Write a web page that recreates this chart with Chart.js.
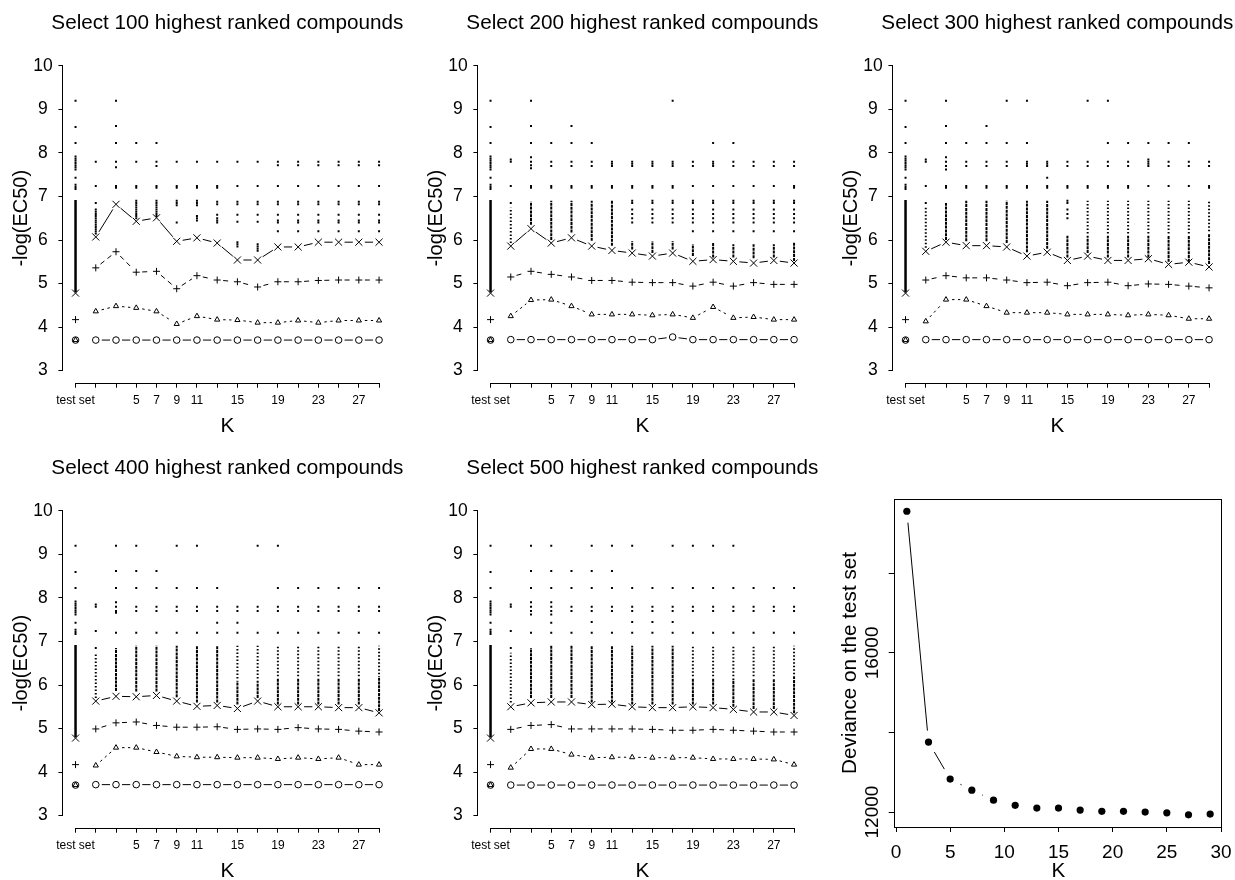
<!DOCTYPE html>
<html>
<head>
<meta charset="utf-8">
<script src="https://cdn.jsdelivr.net/npm/chart.js@4"></script>
<style>
html,body{margin:0;padding:0;background:#fff;overflow:hidden;width:1235px;height:880px;position:relative;}
canvas{position:absolute;}
</style>
</head>
<body>
<canvas id="p1" width="460" height="445" style="left:0px;top:0px"></canvas>
<canvas id="p2" width="460" height="445" style="left:415px;top:0px"></canvas>
<canvas id="p3" width="460" height="445" style="left:830px;top:0px"></canvas>
<canvas id="p4" width="460" height="445" style="left:0px;top:445px"></canvas>
<canvas id="p5" width="460" height="445" style="left:415px;top:445px"></canvas>
<canvas id="p6" width="415" height="445" style="left:830px;top:445px"></canvas>
<script>
// ---------------- DATA ----------------
const categories = ['test set','1','3','5','7','9','11','13','15','17','19','21','23','25','27','29'];
const xTickLabels = ['test set','','','5','7','9','11','','15','','19','','23','','27',''];
const yTickValues = [3,4,5,6,7,8,9,10];
const selectionSizes = [100,200,300,400,500];

// test set column (same in every panel): cross, plus, triangle, circle
const testSetStats = [4.78, 4.17, 3.70, 3.70];
const testSetDots = [9.2, 8.6, 8.23, 7.92, 7.87, 7.82, 7.77, 7.72, 7.67, 7.62, 7.43, 7.27, 7.22, 7.17];
const testSetDense = [4.80, 6.92];

// Select 100
const s100Cross = [6.07, 6.82, 6.43, 6.51, 5.97, 6.05, 5.93, 5.54, 5.54, 5.84, 5.84, 5.95, 5.95, 5.95, 5.95];
const s100Plus = [5.36, 5.73, 5.26, 5.28, 4.88, 5.18, 5.08, 5.04, 4.92, 5.04, 5.04, 5.07, 5.08, 5.08, 5.08];
const s100Triangle = [4.36, 4.48, 4.44, 4.36, 4.07, 4.25, 4.17, 4.16, 4.10, 4.10, 4.15, 4.10, 4.15, 4.15, 4.15];
const s100Circle = [3.70, 3.70, 3.70, 3.70, 3.70, 3.70, 3.70, 3.70, 3.70, 3.70, 3.70, 3.70, 3.70, 3.70, 3.70];
const s100Dots = [
  [7.8, 7.24, 6.85, 6.7, 6.65, 6.6, 6.55, 6.5, 6.45, 6.4, 6.35, 6.3, 6.25, 6.2, 6.15],
  [9.2, 8.62, 8.23, 7.8, 7.67, 7.24, 7.2],
  [8.23, 7.8, 7.24, 7.2, 6.9, 6.85, 6.8, 6.75, 6.7, 6.65, 6.6, 6.55, 6.5],
  [8.23, 7.8, 7.7, 7.24, 7.2, 6.9, 6.85, 6.8, 6.75, 6.7, 6.65, 6.6, 6.55],
  [7.8, 7.24, 7.2, 6.9, 6.85, 6.8, 6.4],
  [7.8, 7.24, 7.2, 6.9, 6.85, 6.8, 6.55, 6.5, 6.45],
  [7.8, 7.24, 7.2, 6.88, 6.82, 6.58, 6.5, 6.45, 6.4],
  [7.8, 7.24, 6.88, 6.82, 6.58, 6.42, 5.95, 5.9, 5.85],
  [7.8, 7.24, 6.88, 6.82, 6.58, 6.42, 5.9, 5.85, 5.8, 5.75],
  [7.8, 7.72, 7.24, 6.88, 6.82, 6.58, 6.45, 6.4, 6.2],
  [7.8, 7.72, 7.24, 6.88, 6.82, 6.58, 6.45, 6.4, 6.2],
  [7.8, 7.72, 7.24, 6.88, 6.82, 6.58, 6.45, 6.4, 6.2],
  [7.8, 7.72, 7.24, 6.88, 6.82, 6.58, 6.45, 6.4, 6.2],
  [7.8, 7.72, 7.24, 6.88, 6.82, 6.58, 6.45, 6.4, 6.2],
  [7.8, 7.72, 7.24, 6.88, 6.82, 6.58, 6.45, 6.4, 6.2]
];
const s100Dense = [null, null, null, null, null, null, null, null, null, null, null, null, null, null, null];
const s100Sparse = [null, null, null, null, null, null, null, null, null, null, null, null, null, null, null];

// Select 200
const s200Cross = [5.86, 6.26, 5.93, 6.05, 5.86, 5.76, 5.70, 5.63, 5.70, 5.51, 5.55, 5.51, 5.47, 5.53, 5.47];
const s200Plus = [5.15, 5.28, 5.21, 5.15, 5.07, 5.07, 5.03, 5.02, 5.02, 4.94, 5.03, 4.94, 5.02, 4.98, 4.98];
const s200Triangle = [4.25, 4.62, 4.63, 4.48, 4.29, 4.29, 4.29, 4.27, 4.29, 4.21, 4.46, 4.21, 4.23, 4.17, 4.17];
const s200Circle = [3.71, 3.71, 3.71, 3.71, 3.71, 3.71, 3.71, 3.71, 3.77, 3.71, 3.71, 3.71, 3.71, 3.71, 3.71];
const s200Dots = [
  [7.85, 7.8, 7.24, 6.85],
  [9.2, 8.62, 8.23, 7.9, 7.8, 7.72, 7.65, 7.24, 7.2],
  [8.23, 7.8, 7.7, 7.24, 7.2],
  [8.62, 8.23, 7.8, 7.7, 7.24, 7.2],
  [8.23, 7.8, 7.7, 7.24, 7.2],
  [7.8, 7.75, 7.7, 7.24, 7.2],
  [7.8, 7.75, 7.7, 7.24, 7.2, 6.9, 6.85, 6.7, 6.6, 6.5, 6.4],
  [7.8, 7.75, 7.7, 7.24, 7.2, 6.9, 6.85, 6.7, 6.6, 6.5, 6.4],
  [9.2, 7.8, 7.75, 7.7, 7.24, 7.2, 6.9, 6.85, 6.7, 6.6, 6.5, 6.4],
  [7.8, 7.7, 7.24, 6.9, 6.85, 6.7, 6.6, 6.5, 6.4, 6.2],
  [8.23, 7.8, 7.75, 7.7, 7.24, 6.9, 6.85, 6.7, 6.6, 6.5, 6.4, 6.2],
  [8.23, 7.8, 7.7, 7.24, 6.9, 6.85, 6.7, 6.6, 6.5, 6.4, 6.2],
  [7.8, 7.7, 7.24, 6.9, 6.85, 6.7, 6.6, 6.5, 6.4, 6.2],
  [7.8, 7.7, 7.24, 6.9, 6.85, 6.7, 6.6, 6.5, 6.4, 6.2],
  [7.8, 7.7, 7.24, 7.2, 6.9, 6.85, 6.7, 6.6, 6.5, 6.4, 6.2]
];
const s200Dense = [null, [6.35, 6.88], [6.0, 6.9], [6.17, 6.9], [5.98, 6.9], [5.87, 6.9], [5.78, 5.97], [5.7, 5.97], [5.78, 5.97], [5.63, 5.9], [5.6, 5.94], [5.6, 5.9], [5.58, 5.9], [5.6, 5.9], [5.52, 5.94]];
const s200Sparse = [[5.93, 6.74], null, null, null, null, null, null, null, null, null, null, null, null, null, null];

// Select 300
const s300Cross = [5.74, 5.95, 5.87, 5.87, 5.84, 5.63, 5.72, 5.53, 5.63, 5.53, 5.53, 5.57, 5.44, 5.49, 5.38];
const s300Plus = [5.08, 5.18, 5.13, 5.13, 5.08, 5.02, 5.03, 4.95, 5.02, 5.03, 4.95, 4.99, 4.98, 4.94, 4.90];
const s300Triangle = [4.13, 4.63, 4.63, 4.48, 4.33, 4.33, 4.33, 4.29, 4.29, 4.29, 4.27, 4.29, 4.27, 4.19, 4.19];
const s300Circle = [3.71, 3.71, 3.71, 3.71, 3.71, 3.71, 3.71, 3.71, 3.71, 3.71, 3.71, 3.71, 3.71, 3.71, 3.71];
const s300Dots = [
  [7.85, 7.8, 7.24, 6.85],
  [9.2, 8.62, 8.23, 7.9, 7.8, 7.7, 7.62, 7.24, 7.2],
  [8.23, 7.8, 7.7, 7.24, 7.2],
  [8.62, 8.23, 7.8, 7.7, 7.24, 7.2],
  [9.2, 8.23, 7.8, 7.7, 7.24, 7.2],
  [9.2, 8.23, 7.8, 7.75, 7.7, 7.24, 7.2],
  [7.8, 7.75, 7.7, 7.43, 7.24, 7.2],
  [7.8, 7.7, 7.24, 7.2, 6.9, 6.85, 6.7, 6.6, 6.5],
  [9.2, 7.8, 7.7, 7.24, 7.2],
  [9.2, 8.23, 7.8, 7.7, 7.24, 7.2],
  [8.23, 7.8, 7.7, 7.24, 7.2],
  [8.23, 7.85, 7.8, 7.75, 7.7, 7.24],
  [8.23, 7.8, 7.7, 7.24],
  [8.23, 7.8, 7.7, 7.24],
  [7.8, 7.7, 7.24, 7.2]
];
const s300Dense = [null, [6.0, 6.85], [5.97, 6.9], [5.97, 6.9], [5.93, 6.9], [5.72, 6.9], [5.8, 6.9], [5.6, 6.1], [5.7, 6.1], [5.6, 6.1], [5.6, 6.1], [5.6, 6.1], [5.5, 6.1], [5.5, 6.1], [5.45, 6.15]];
const s300Sparse = [[5.82, 6.74], null, null, null, null, null, null, null, [6.15, 6.9], [6.15, 6.9], [6.15, 6.9], [6.15, 6.9], [6.15, 6.9], [6.15, 6.9], [6.2, 6.9]];

// Select 400
const s400Cross = [5.63, 5.74, 5.73, 5.76, 5.63, 5.51, 5.53, 5.46, 5.63, 5.50, 5.50, 5.50, 5.48, 5.48, 5.36];
const s400Plus = [4.99, 5.13, 5.15, 5.07, 5.03, 5.03, 5.04, 4.98, 4.99, 4.98, 5.02, 4.99, 4.98, 4.94, 4.92];
const s400Triangle = [4.15, 4.56, 4.56, 4.46, 4.36, 4.34, 4.34, 4.33, 4.33, 4.30, 4.33, 4.30, 4.33, 4.17, 4.17];
const s400Circle = [3.71, 3.71, 3.71, 3.71, 3.71, 3.71, 3.71, 3.71, 3.71, 3.71, 3.71, 3.71, 3.71, 3.71, 3.71];
const s400Dots = [
  [7.85, 7.8, 7.24, 6.85],
  [9.2, 8.62, 8.23, 7.9, 7.8, 7.7, 7.66, 7.2],
  [9.2, 8.62, 8.23, 7.8, 7.7, 7.2],
  [8.62, 8.23, 7.8, 7.7, 7.2],
  [9.2, 8.23, 7.8, 7.7, 7.2],
  [9.2, 8.23, 7.8, 7.7, 7.2],
  [8.23, 7.8, 7.7, 7.43, 7.2],
  [7.8, 7.7, 7.43, 7.2],
  [9.2, 7.8, 7.7, 7.2],
  [9.2, 8.23, 7.8, 7.7, 7.2],
  [8.23, 7.8, 7.7, 7.2],
  [8.23, 7.8, 7.7, 7.2],
  [8.23, 7.8, 7.7, 7.2],
  [8.23, 7.8, 7.7, 7.2],
  [8.23, 7.8, 7.7, 7.2]
];
const s400Dense = [null, [5.86, 6.85], [5.85, 6.9], [5.85, 6.9], [5.72, 6.9], [5.6, 6.9], [5.6, 6.9], [5.55, 6.1], [5.7, 6.1], [5.55, 6.15], [5.55, 6.15], [5.55, 6.15], [5.55, 6.15], [5.55, 6.15], [5.4, 6.2]];
const s400Sparse = [[5.7, 6.74], null, null, null, null, null, null, [6.15, 6.9], [6.15, 6.9], [6.2, 6.9], [6.2, 6.9], [6.2, 6.9], [6.2, 6.9], [6.2, 6.9], [6.25, 6.9]];

// Select 500
const s500Cross = [5.50, 5.59, 5.61, 5.61, 5.55, 5.56, 5.50, 5.48, 5.48, 5.50, 5.48, 5.44, 5.38, 5.38, 5.30];
const s500Plus = [4.98, 5.07, 5.09, 4.99, 4.99, 4.99, 4.99, 4.98, 4.96, 4.96, 4.98, 4.96, 4.94, 4.92, 4.92];
const s500Triangle = [4.10, 4.53, 4.53, 4.40, 4.33, 4.34, 4.34, 4.33, 4.33, 4.33, 4.30, 4.30, 4.30, 4.29, 4.17];
const s500Circle = [3.70, 3.70, 3.70, 3.70, 3.70, 3.70, 3.70, 3.70, 3.70, 3.70, 3.70, 3.70, 3.70, 3.70, 3.70];
const s500Dots = [
  [7.85, 7.8, 7.24, 6.85],
  [9.2, 8.62, 8.23, 7.9, 7.8, 7.7, 7.62, 7.2],
  [9.2, 8.62, 8.23, 7.9, 7.8, 7.7, 7.62, 7.43, 7.2],
  [8.62, 8.23, 7.8, 7.7, 7.2],
  [9.2, 8.62, 8.23, 7.8, 7.7, 7.45, 7.2],
  [9.2, 8.62, 8.23, 7.8, 7.7, 7.2],
  [9.2, 8.23, 7.8, 7.7, 7.45, 7.2],
  [8.23, 7.8, 7.7, 7.45, 7.2],
  [9.2, 8.23, 7.8, 7.7, 7.45, 7.2],
  [9.2, 8.23, 7.8, 7.7, 7.2],
  [9.2, 8.23, 7.8, 7.7, 7.2],
  [9.2, 8.23, 7.8, 7.7, 7.2],
  [8.23, 7.8, 7.7, 7.2],
  [8.23, 7.8, 7.7, 7.2],
  [8.23, 7.8, 7.7, 7.2]
];
const s500Dense = [null, [5.7, 6.85], [5.7, 6.9], [5.7, 6.9], [5.6, 6.9], [5.6, 6.9], [5.55, 6.9], [5.55, 6.9], [5.55, 6.9], [5.55, 6.15], [5.55, 6.15], [5.5, 6.15], [5.45, 6.15], [5.45, 6.15], [5.35, 6.2]];
const s500Sparse = [[5.6, 6.74], null, null, null, null, null, null, null, null, [6.2, 6.9], [6.2, 6.9], [6.2, 6.9], [6.2, 6.9], [6.2, 6.9], [6.25, 6.9]];

// Deviance panel
const kValues = [1, 3, 5, 7, 9, 11, 13, 15, 17, 19, 21, 23, 25, 27, 29];
const deviance = [19560, 13760, 12830, 12550, 12300, 12170, 12100, 12100, 12050, 12020, 12020, 12000, 11980, 11930, 11950];
const devianceXTicks = [0, 5, 10, 15, 20, 25, 30];
const devianceYTicks = [12000, 14000, 16000, 18000];
const devianceYLabels = ['12000', '', '16000', ''];

// ---------------- RENDERING ----------------
const FONT = "'Liberation Sans', Arial, Helvetica, sans-serif";
Chart.defaults.font.family = FONT;
Chart.defaults.color = '#000';

function alignPx(p){ return Math.round(p - 0.5) + 0.5; }

const gapLinePlugin = {
  id: 'gapLines',
  afterDatasetsDraw(chart) {
    const ctx = chart.ctx;
    chart.data.datasets.forEach((ds, di) => {
      if (!ds.gapLine) return;
      const pts = chart.getDatasetMeta(di).data;
      const g = ds.gapLine.gap;
      ctx.save();
      ctx.strokeStyle = '#000';
      ctx.lineWidth = 1;
      ctx.setLineDash(ds.gapLine.dash || []);
      for (let i = ds.gapLine.from; i < pts.length - 1; i++) {
        const a = pts[i], b = pts[i + 1];
        const dx = b.x - a.x, dy = b.y - a.y;
        const L = Math.hypot(dx, dy);
        if (L <= 2 * g) continue;
        const ux = dx / L, uy = dy / L;
        ctx.beginPath();
        ctx.moveTo(a.x + ux * g, a.y + uy * g);
        ctx.lineTo(b.x - ux * g, b.y - uy * g);
        ctx.stroke();
      }
      ctx.restore();
    });
  }
};

const rAxesPlugin = {
  id: 'rAxes',
  afterDraw(chart, args, opts) {
    const {ctx, chartArea, scales} = chart;
    ctx.save();
    ctx.strokeStyle = '#000';
    ctx.lineWidth = 1;
    ctx.setLineDash([]);
    const left = Math.round(chartArea.left) - 0.5;
    const bottom = Math.round(chartArea.bottom) + 0.5;
    if (opts.box) {
      const top = Math.round(chartArea.top) + 0.5;
      const right = Math.round(chartArea.right) - 0.5;
      ctx.strokeRect(left, top, right - left, bottom - top);
    } else {
      const x0 = alignPx(scales.x.getPixelForValue(opts.xFrom)) - 0.5;
      const x1 = alignPx(scales.x.getPixelForValue(opts.xTo)) + 0.5;
      ctx.beginPath(); ctx.moveTo(x0, bottom); ctx.lineTo(x1, bottom); ctx.stroke();
      const y0 = alignPx(scales.y.getPixelForValue(opts.yTo)) - 0.5;
      const y1 = alignPx(scales.y.getPixelForValue(opts.yFrom)) + 0.5;
      ctx.beginPath(); ctx.moveTo(left, y0); ctx.lineTo(left, y1); ctx.stroke();
    }
    ctx.restore();
  }
};

function bandDataset(xi, band, width, dash) {
  return {
    type: 'line',
    data: [{x: xi, y: band[0]}, {x: xi, y: band[1]}],
    borderColor: '#000', borderWidth: width, borderDash: dash,
    borderCapStyle: 'butt', pointRadius: 0, showLine: true, fill: false, tension: 0
  };
}

function statDataset(testVal, series, style, radius, dash) {
  const data = [{x: 0, y: testVal}].concat(series.map((v, i) => ({x: i + 1, y: v})));
  return {
    type: 'scatter', data,
    pointStyle: style, pointRadius: radius,
    pointBorderColor: '#000', borderColor: '#000',
    pointBackgroundColor: 'rgba(0,0,0,0)', backgroundColor: 'rgba(0,0,0,0)',
    pointBorderWidth: 1, borderWidth: 1, showLine: false,
    gapLine: {from: 1, gap: 6, dash}
  };
}

function mainPanel(id, size, cross, plus, tri, circ, dots, dense, sparse) {
  const datasets = [];
  datasets.push(bandDataset(0, testSetDense, 2.5, []));
  dense.forEach((b, i) => { if (b) datasets.push(bandDataset(i + 1, b, 2, [3, 0.8])); });
  sparse.forEach((b, i) => { if (b) datasets.push(bandDataset(i + 1, b, 2, [1.5, 2])); });
  const dotData = testSetDots.map(v => ({x: 0, y: v}));
  dots.forEach((arr, i) => arr.forEach(v => dotData.push({x: i + 1, y: v})));
  datasets.push({
    type: 'scatter', data: dotData, pointStyle: 'rect', pointRadius: 1.4,
    pointBackgroundColor: '#000', backgroundColor: '#000', pointBorderWidth: 0, borderWidth: 0, showLine: false
  });
  datasets.push(statDataset(testSetStats[0], cross, 'crossRot', 5, []));
  datasets.push(statDataset(testSetStats[1], plus, 'cross', 3.5, [5, 4]));
  datasets.push(statDataset(testSetStats[2], tri, 'triangle', 3, [2.5, 3.5]));
  datasets.push(statDataset(testSetStats[3], circ, 'circle', 3.3, []));

  new Chart(document.getElementById(id), {
    type: 'scatter',
    data: {datasets},
    plugins: [gapLinePlugin, rAxesPlugin],
    options: {
      responsive: false, animation: false, devicePixelRatio: 1, events: [],
      layout: {padding: {left: 0, right: 5.4, top: 0, bottom: 0}, autoPadding: false},
      plugins: {
        legend: {display: false}, tooltip: {enabled: false},
        title: {
          display: true, text: 'Select ' + size + ' highest ranked compounds',
          font: {size: 20.7, weight: 'normal', family: FONT}, color: '#000',
          padding: {top: 10.9, bottom: 18.06}, fullSize: true
        },
        rAxes: {box: false, xFrom: 0, xTo: categories.length - 1, yFrom: yTickValues[0], yTo: yTickValues[yTickValues.length - 1]}
      },
      scales: {
        x: {
          type: 'linear', min: -0.6, max: 15.6,
          afterBuildTicks: s => { s.ticks = categories.map((c, i) => ({value: i})); },
          afterFit: s => { s.height = 62.3; },
          ticks: {autoSkip: false, maxRotation: 0, minRotation: 0, padding: 6, color: '#000',
                  font: {size: 12, family: FONT}, callback: (v, i) => xTickLabels[i]},
          grid: {drawOnChartArea: false, drawTicks: true, tickLength: 5, color: '#000', lineWidth: 1},
          border: {display: false},
          title: {display: true, text: 'K', color: '#000', font: {size: 20.7, family: FONT}, padding: {top: 0, bottom: 5.9}}
        },
        y: {
          type: 'linear', min: 2.72, max: 10.28,
          afterBuildTicks: s => { s.ticks = yTickValues.map(v => ({value: v})); },
          afterFit: s => { s.width = 63.4; },
          ticks: {crossAlign: 'center', padding: 5.7, color: '#000', font: {size: 17.5, family: FONT},
                  callback: v => String(v)},
          grid: {drawOnChartArea: false, drawTicks: true, tickLength: 5, color: '#000', lineWidth: 1},
          border: {display: false},
          title: {display: true, text: '-log(EC50)', color: '#000', font: {size: 20, family: FONT}, padding: {top: 9, bottom: 0}}
        },
        // empty spacer on the right so the full-width title is centred over the plot region
        yRight: {
          type: 'linear', position: 'right', display: true, min: 0, max: 1,
          ticks: {display: false}, grid: {display: false}, border: {display: false},
          afterFit: s => { s.width = 63.4; }
        }
      }
    }
  });
}

mainPanel('p1', selectionSizes[0], s100Cross, s100Plus, s100Triangle, s100Circle, s100Dots, s100Dense, s100Sparse);
mainPanel('p2', selectionSizes[1], s200Cross, s200Plus, s200Triangle, s200Circle, s200Dots, s200Dense, s200Sparse);
mainPanel('p3', selectionSizes[2], s300Cross, s300Plus, s300Triangle, s300Circle, s300Dots, s300Dense, s300Sparse);
mainPanel('p4', selectionSizes[3], s400Cross, s400Plus, s400Triangle, s400Circle, s400Dots, s400Dense, s400Sparse);
mainPanel('p5', selectionSizes[4], s500Cross, s500Plus, s500Triangle, s500Circle, s500Dots, s500Dense, s500Sparse);

// Deviance panel
new Chart(document.getElementById('p6'), {
  type: 'scatter',
  data: {datasets: [{
    type: 'scatter',
    data: kValues.map((k, i) => ({x: k, y: deviance[i]})),
    pointStyle: 'circle', pointRadius: 3.6,
    pointBackgroundColor: '#000', backgroundColor: '#000', pointBorderWidth: 0, borderWidth: 0,
    showLine: false, gapLine: {from: 0, gap: 11.5, dash: []}
  }]},
  plugins: [gapLinePlugin, rAxesPlugin],
  options: {
    responsive: false, animation: false, devicePixelRatio: 1, events: [],
    layout: {padding: {left: 0, right: 22.7, top: 54, bottom: 0}, autoPadding: false},
    plugins: {legend: {display: false}, tooltip: {enabled: false}, title: {display: false}, rAxes: {box: true}},
    scales: {
      x: {
        type: 'linear', min: -0.12, max: 30.12,
        afterBuildTicks: s => { s.ticks = devianceXTicks.map(v => ({value: v})); },
        afterFit: s => { s.height = 63; },
        ticks: {autoSkip: false, maxRotation: 0, minRotation: 0, padding: 9, color: '#000',
                font: {size: 19, family: FONT}, callback: v => String(v)},
        grid: {drawOnChartArea: false, drawTicks: true, tickLength: 5, color: '#000', lineWidth: 1},
        border: {display: false},
        title: {display: true, text: 'K', color: '#000', font: {size: 20.7, family: FONT}, padding: {top: 0, bottom: 5.9}}
      },
      y: {
        type: 'linear', min: 11625, max: 19868,
        afterBuildTicks: s => { s.ticks = devianceYTicks.map(v => ({value: v})); },
        afterFit: s => { s.width = 64.7; },
        ticks: {autoSkip: false, minRotation: 90, maxRotation: 90, crossAlign: 'center', padding: -10.7,
                color: '#000', font: {size: 19, family: FONT}, callback: (v, i) => devianceYLabels[i]},
        grid: {drawOnChartArea: false, drawTicks: true, tickLength: 6, color: '#000', lineWidth: 1},
        border: {display: false},
        title: {display: true, text: 'Deviance on the test set', color: '#000', font: {size: 20.7, family: FONT}, padding: {top: 7.6, bottom: 0}}
      }
    }
  }
});
</script>
</body>
</html>
